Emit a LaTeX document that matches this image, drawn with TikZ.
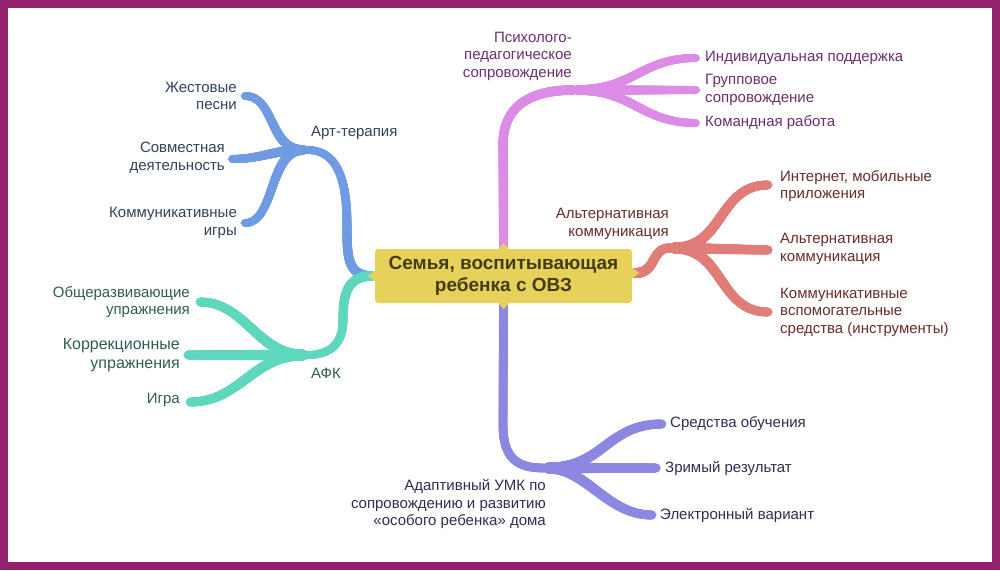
\documentclass[tikz,border=0pt]{standalone}
\usepackage{fontspec}
\setmainfont{Liberation Sans}
\usetikzlibrary{decorations.markings}
\pgfdeclarelayer{bga}
\pgfdeclarelayer{bgb}
\pgfsetlayers{bga,bgb,main}
\definecolor{framec}{HTML}{93226E}
\definecolor{cblue}{HTML}{6E9BE1}
\definecolor{cteal}{HTML}{5FD7BE}
\definecolor{cpink}{HTML}{DC8CE6}
\definecolor{csalm}{HTML}{E17D78}
\definecolor{clav}{HTML}{8C87E1}
\definecolor{cyel}{HTML}{E6D25A}
\definecolor{tcent}{HTML}{463C14}
\definecolor{tblue}{HTML}{33415C}
\definecolor{tteal}{HTML}{2F5D55}
\definecolor{tpink}{HTML}{6E2E6E}
\definecolor{tsalm}{HTML}{6A2C2C}
\definecolor{tlav}{HTML}{2E2E55}
\tikzset{
  taper/.style n args={3}{postaction={decorate},decoration={markings,
    mark=between positions 0 and 1 step 0.004 with {\pgfmathsetmacro\rr{#2+(#3-#2)*\pgfkeysvalueof{/pgf/decoration/mark info/sequence number}/250}\fill[#1] (0,0) circle[radius=\rr pt];},
    mark=at position 0.999 with {\fill[#1] (-2pt,-#3 pt) -- (5pt,0pt) -- (-2pt,#3 pt) -- cycle;}}},
  lbl/.style={inner sep=0pt, font=\fontsize{15}{17.5}\selectfont},
  lw/.style={lbl, anchor=west, align=left},
  le/.style={lbl, anchor=east, align=right},
  centerbox/.style={fill=cyel, text=tcent, rounded corners=3pt, minimum width=257pt,
    minimum height=54pt, align=center, inner sep=0pt,
    font=\bfseries\fontsize{19}{22}\selectfont},
}
\begin{document}
\begin{tikzpicture}[x=1pt,y=-1pt]
\begin{pgfonlayer}{bga}
\fill[framec] (0,0) rectangle (1000,570);
\fill[white] (8,8) rectangle (992,562);
\end{pgfonlayer}

% central node
\node[centerbox] (c) at (503.5,276) {Семья, воспитывающая\\ребенка с ОВЗ};
\fill[cyel] ([xshift=-5]c.north) -- ([yshift=6]c.north) -- ([xshift=5]c.north) -- cycle;
\fill[cyel] ([xshift=-5]c.south) -- ([yshift=-6]c.south) -- ([xshift=5]c.south) -- cycle;
\fill[cyel] ([yshift=5]c.west) -- ([xshift=-7]c.west) -- ([yshift=-5]c.west) -- cycle;
\fill[cyel] ([yshift=8]c.east) -- ([xshift=7,yshift=3]c.east) -- ([yshift=-2]c.east) -- cycle;

% junctions
\coordinate (jArt) at (303,150);
\coordinate (jAfk) at (303,355);
\coordinate (jPsy) at (578,90);
\coordinate (jAlt) at (674,248);
\coordinate (jUmk) at (548,468);

% level-1 labels
\node[lw, text=tblue] (art) at (311,133) {Арт-терапия};
\node[lw, text=tteal] (afk) at (311,373) {АФК};
\node[le, text=tpink] (psy) at (572,56) {Психолого-\\педагогическое\\сопровождение};
\node[le, text=tsalm] (alt) at (669,224) {Альтернативная\\коммуникация};
\node[le, text=tlav] (umk) at (546,504) {Адаптивный УМК по\\сопровождению и развитию\\«особого ребенка» дома};

% leaves
\node[le, text=tblue] (b1) at (237,96) {Жестовые\\песни};
\node[le, text=tblue] (b2) at (225,158) {Совместная\\деятельность};
\node[le, text=tblue] (b3) at (237,223) {Коммуникативные\\игры};
\node[le, text=tteal] (t1) at (190,302) {Общеразвивающие\\упражнения};
\node[le, text=tteal, font=\fontsize{16}{18.5}\selectfont] (t2) at (180,355) {Коррекционные\\упражнения};
\node[le, text=tteal] (t3) at (180,400) {Игра};
\node[lw, text=tpink] (p1) at (705,58) {Индивидуальная поддержка};
\node[lw, text=tpink] (p2) at (705,90) {Групповое\\сопровождение};
\node[lw, text=tpink] (p3) at (705,123) {Командная работа};
\node[lw, text=tsalm] (s1) at (780,186) {Интернет, мобильные\\приложения};
\node[lw, text=tsalm] (s2) at (780,249) {Альтернативная\\коммуникация};
\node[lw, text=tsalm] (s3) at (780,312) {Коммуникативные\\вспомогательные\\средства (инструменты)};
\node[lw, text=tlav] (l1) at (670,424) {Средства обучения};
\node[lw, text=tlav] (l2) at (665,468) {Зримый результат};
\node[lw, text=tlav] (l3) at (660,515) {Электронный вариант};

\begin{pgfonlayer}{bgb}
% main branches
\path[taper={cblue}{5}{4}] ([xshift=-3]c.west) .. controls +(-25,0) and +(0,30) .. (347,225) .. controls +(0,-50) and +(28,0) .. ([xshift=4]jArt);
\path[taper={cteal}{5}{4}] ([xshift=-3]c.west) .. controls +(-25,0) and +(0,-25) .. (343,320) .. controls +(0,22) and +(25,0) .. ([xshift=4]jAfk);
\path[taper={cpink}{4.5}{5}] (c.north) -- (503,145) .. controls +(0,-42) and +(-40,0) .. ([xshift=-4]jPsy);
\path[taper={clav}{4.5}{4.5}] (c.south) -- (503,425) .. controls +(0,35) and +(-25,0) .. ([xshift=-4]jUmk);
\path[taper={csalm}{5}{4.5}] ([xshift=3,yshift=3]c.east) .. controls +(22,0) and +(-20,0) .. ([xshift=-4]jAlt);
% blue
\path[taper={cblue}{5}{4}] (jArt) .. controls +(-34,0) and +(30,0) .. ([xshift=8]b1.east);
\path[taper={cblue}{5}{4}] (jArt) .. controls +(-30,0) and +(30,0) .. ([xshift=7,yshift=-1]b2.east);
\path[taper={cblue}{5}{4}] (jArt) .. controls +(-34,0) and +(30,0) .. ([xshift=8]b3.east);
% teal
\path[taper={cteal}{5.5}{4.5}] (jAfk) .. controls +(-45,0) and +(45,0) .. ([xshift=10]t1.east);
\path[taper={cteal}{5.5}{4.5}] (jAfk) -- ([xshift=8]t2.east);
\path[taper={cteal}{5.5}{4.5}] (jAfk) .. controls +(-50,0) and +(50,0) .. ([xshift=10,yshift=-2]t3.east);
% pink
\path[taper={cpink}{5}{4}] (jPsy) .. controls +(55,0) and +(-55,0) .. ([xshift=-9]p1.west);
\path[taper={cpink}{5}{4}] (jPsy) -- ([xshift=-9]p2.west);
\path[taper={cpink}{5}{4}] (jPsy) .. controls +(55,0) and +(-55,0) .. ([xshift=-9]p3.west);
% salmon
\path[taper={csalm}{5.5}{4.5}] (jAlt) .. controls +(50,0) and +(-50,0) .. ([xshift=-12,yshift=1]s1.west);
\path[taper={csalm}{5.5}{4.5}] (jAlt) -- ([xshift=-12,yshift=-1]s2.west);
\path[taper={csalm}{5.5}{4.5}] (jAlt) .. controls +(50,0) and +(-50,0) .. ([xshift=-12]s3.west);
% lavender
\path[taper={clav}{5.5}{4.5}] (jUmk) .. controls +(55,0) and +(-55,0) .. ([xshift=-8]l1.west);
\path[taper={clav}{5.5}{4.5}] (jUmk) -- ([xshift=-9]l2.west);
\path[taper={clav}{5.5}{4.5}] (jUmk) .. controls +(38,0) and +(-45,0) .. ([xshift=-8]l3.west);
\end{pgfonlayer}
\end{tikzpicture}
\end{document}
